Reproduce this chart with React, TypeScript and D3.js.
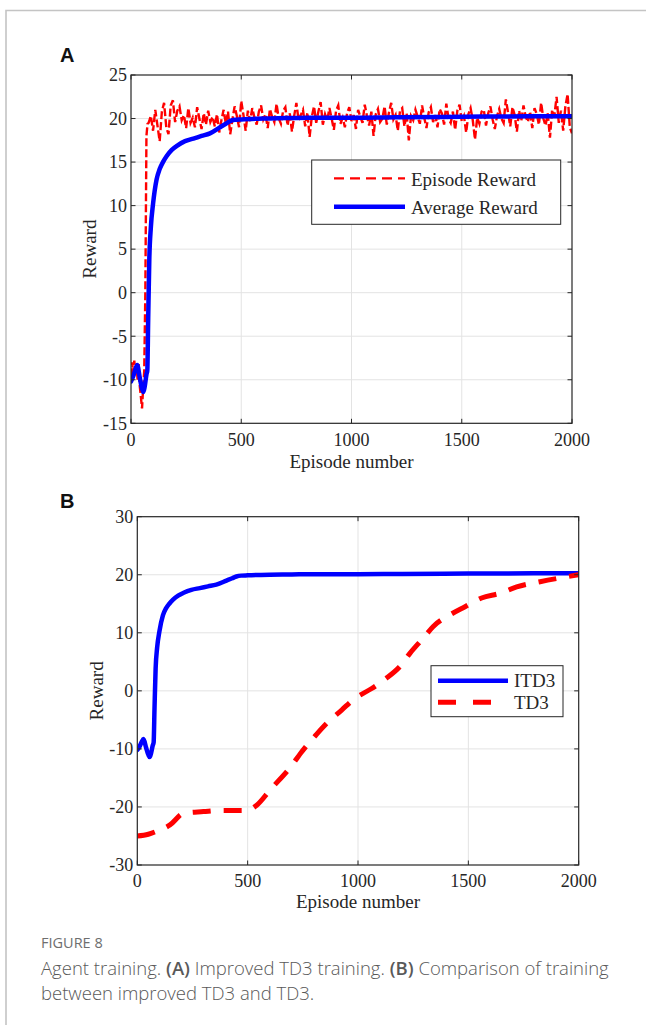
import React from 'react';
import * as d3 from 'd3';

// ---------- data ----------
const xTicks = [0, 500, 1000, 1500, 2000];
const yTicksA = [-15, -10, -5, 0, 5, 10, 15, 20, 25];
const yTicksB = [-30, -20, -10, 0, 10, 20, 30];

// Episode reward (panel A), early part with finer spacing
const episodeEarlyX = [0, 5, 10, 15, 20, 25, 30, 35, 40, 45, 50, 55, 60, 65, 70, 75];
const episodeEarlyY = [-9.6, -8.0, -9.2, -7.8, -9.4, -8.4, -10.0, -8.2, -10.8, -12.0, -13.3, -11.0, -9.0, 0.0, 18.0, 19.4];
// Episode reward from episode 80 to 2000, every 10 episodes
const episodeMainStart = 80;
const episodeMainStep = 10;
const episodeMainY = [
  19.5, 20.3, 18.6, 21.0, 19.2, 17.4, 20.8, 21.8, 19.0, 18.2,
  21.5, 22.1, 19.6, 20.9, 21.4, 19.8, 20.4, 18.9, 21.2, 19.5,
  20.1, 19.0, 21.3, 20.0, 18.8, 20.6, 19.3, 20.9, 19.6, 20.2,
  19.1, 20.5, 18.4, 19.8, 21.0, 19.4, 20.8, 18.2, 19.9, 21.4,
  20.3, 19.0, 22.0, 20.4, 18.6, 20.9, 19.7, 21.2, 20.1, 19.3,
  20.8, 21.5, 19.9, 20.5, 18.9, 21.1, 20.2, 19.6, 21.7, 20.0,
  19.4, 20.9, 21.3, 19.2, 20.6, 18.5, 20.3, 21.8, 19.8, 20.4,
  21.0, 19.1, 20.7, 17.9, 20.2, 21.4, 19.5, 20.8, 21.9, 19.3,
  20.5, 19.8, 21.2, 20.0, 18.7, 20.9, 21.5, 19.4, 20.1, 19.0,
  20.6, 21.3, 19.7, 20.4, 18.8, 21.0, 20.2, 19.5, 21.6, 20.3,
  19.2, 20.8, 18.0, 20.5, 21.1, 19.6, 20.0, 21.4, 19.3, 20.7,
  21.8, 19.9, 20.4, 18.6, 20.9, 21.2, 19.1, 20.6, 17.5, 20.3,
  19.8, 21.0, 20.2, 19.4, 21.5, 20.1, 18.9, 20.7, 21.3, 19.6,
  20.4, 19.0, 21.1, 20.6, 19.3, 21.7, 20.0, 19.5, 20.8, 18.7,
  20.9, 21.6, 19.7, 20.3, 18.4, 20.5, 21.2, 19.8, 17.6, 20.1,
  19.4, 20.8, 21.0, 19.2, 20.6, 21.4, 19.9, 18.8, 20.3, 21.1,
  20.0, 19.5, 22.2, 20.7, 19.1, 21.3, 20.4, 18.5, 20.9, 19.7,
  21.5, 20.2, 19.6, 20.8, 18.9, 21.2, 20.5, 19.3, 21.8, 20.0,
  19.2, 20.6, 17.8, 21.0, 20.3, 22.5, 19.5, 20.9, 18.6, 21.4,
  22.8, 19.0, 18.3,
];

// Average reward (panel A) = ITD3 (panel B)
const avgEpisodes = [0, 10, 20, 28, 40, 50, 56, 62, 70, 74, 78, 83, 90, 100, 116, 130, 145, 162, 185, 210, 245, 283, 320, 358, 404, 430, 449, 470, 500, 600, 700, 800, 1000, 1200, 1500, 1800, 2000];
const avgValues = [-10.2, -9.6, -8.8, -8.3, -9.8, -11.0, -11.4, -10.8, -9.4, -8.9, -3.0, 3.8, 7.5, 10.2, 13.0, 14.2, 15.0, 15.7, 16.4, 16.9, 17.4, 17.7, 18.0, 18.3, 19.0, 19.4, 19.7, 19.85, 19.9, 20.0, 20.05, 20.1, 20.1, 20.15, 20.2, 20.25, 20.25];

// TD3 (panel B)
const td3Episodes = [0, 50, 80, 148, 210, 300, 375, 496, 541, 601, 707, 737, 812, 858, 926, 986, 1062, 1122, 1190, 1236, 1296, 1341, 1417, 1485, 1560, 1643, 1719, 1825, 1953, 2000];
const td3Values = [-25.0, -24.7, -24.3, -23.1, -21.1, -20.8, -20.6, -20.6, -19.7, -17.1, -12.5, -10.9, -7.5, -5.6, -3.3, -1.3, 0.4, 2.0, 4.2, 6.5, 9.1, 11.1, 13.1, 14.5, 16.0, 16.8, 17.9, 18.8, 19.7, 20.0];

// ---------- helpers ----------
const SERIF = '"Liberation Serif", "Times New Roman", serif';
const AXIS = '#262626';
const GRID = '#e3e3e3';

type Pt = [number, number];

const episodePts: Pt[] = [
  ...episodeEarlyX.map((x, i) => [x, episodeEarlyY[i]] as Pt),
  ...episodeMainY.map((y, i) => [episodeMainStart + i * episodeMainStep, y] as Pt),
];
const avgPts: Pt[] = avgEpisodes.map((x, i) => [x, avgValues[i]]);
const td3Pts: Pt[] = td3Episodes.map((x, i) => [x, td3Values[i]]);

interface PanelProps {
  id: string;
  left: number; right: number; top: number; bottom: number;
  yDomain: [number, number];
  yTicks: number[];
  yLabelX: number;
  xTickBaseline: number;
  xLabelBaseline: number;
  children: (x: d3.ScaleLinear<number, number>, y: d3.ScaleLinear<number, number>) => React.ReactNode;
  legend: React.ReactNode;
}

function Panel(p: PanelProps) {
  const x = d3.scaleLinear().domain([0, 2000]).range([p.left, p.right]);
  const y = d3.scaleLinear().domain(p.yDomain).range([p.bottom, p.top]);
  const tl = 4.5;
  return (
    <g>
      <defs>
        <clipPath id={`clip-${p.id}`}>
          <rect x={p.left} y={p.top} width={p.right - p.left} height={p.bottom - p.top} />
        </clipPath>
      </defs>
      <rect x={p.left} y={p.top} width={p.right - p.left} height={p.bottom - p.top} fill="#fff" />
      {/* grid */}
      {xTicks.slice(1, -1).map((t) => (
        <line key={`gx${t}`} x1={x(t)} x2={x(t)} y1={p.top} y2={p.bottom} stroke={GRID} strokeWidth={1} />
      ))}
      {p.yTicks.slice(1, -1).map((t) => (
        <line key={`gy${t}`} x1={p.left} x2={p.right} y1={y(t)} y2={y(t)} stroke={GRID} strokeWidth={1} />
      ))}
      <g clipPath={`url(#clip-${p.id})`}>{p.children(x, y)}</g>
      {/* ticks */}
      {xTicks.map((t) => (
        <g key={`tx${t}`}>
          <line x1={x(t)} x2={x(t)} y1={p.bottom} y2={p.bottom - tl} stroke={AXIS} />
          <line x1={x(t)} x2={x(t)} y1={p.top} y2={p.top + tl} stroke={AXIS} />
          <text x={x(t)} y={p.xTickBaseline} textAnchor="middle" fontFamily={SERIF} fontSize={18} fill={AXIS}>{t}</text>
        </g>
      ))}
      {p.yTicks.map((t) => (
        <g key={`ty${t}`}>
          <line x1={p.left} x2={p.left + tl} y1={y(t)} y2={y(t)} stroke={AXIS} />
          <line x1={p.right} x2={p.right - tl} y1={y(t)} y2={y(t)} stroke={AXIS} />
          <text x={p.left - 4} y={y(t)} dy="0.35em" textAnchor="end" fontFamily={SERIF} fontSize={18} fill={AXIS}>{t}</text>
        </g>
      ))}
      <rect x={p.left} y={p.top} width={p.right - p.left} height={p.bottom - p.top} fill="none" stroke={AXIS} strokeWidth={1.2} />
      <text x={(p.left + p.right) / 2} y={p.xLabelBaseline} textAnchor="middle" fontFamily={SERIF} fontSize={19} fill={AXIS}>Episode number</text>
      <text transform={`translate(${p.yLabelX},${(p.top + p.bottom) / 2}) rotate(-90)`} textAnchor="middle" dy="0.35em" fontFamily={SERIF} fontSize={19} fill={AXIS}>Reward</text>
      {p.legend}
    </g>
  );
}

export default function App() {
  const lineLinear = (x: any, y: any) => d3.line<Pt>().x((d) => x(d[0])).y((d) => y(d[1]));
  const lineSmooth = (x: any, y: any) => d3.line<Pt>().x((d) => x(d[0])).y((d) => y(d[1])).curve(d3.curveMonotoneX);

  return (
    <svg width={646} height={1025} style={{ position: 'absolute', left: 0, top: 0, background: '#fff' }}>
      {/* frame */}
      <path d="M6,1025 L6,10.5 L646,10.5" fill="none" stroke="#c4c4c4" strokeWidth={1.6} />

      <text x={60} y={62} fontFamily='"Liberation Sans", Arial, sans-serif' fontWeight="bold" fontSize={20} fill="#111">A</text>
      <Panel
        id="a" left={131} right={572} top={75} bottom={423.3}
        yDomain={[-15, 25]} yTicks={yTicksA} yLabelX={89}
        xTickBaseline={446} xLabelBaseline={468}
        legend={
          <g>
            <rect x={311.7} y={160} width={249} height={64.3} fill="#fff" stroke={AXIS} strokeWidth={1} />
            <line x1={334} x2={405} y1={178.3} y2={178.3} stroke="#ff0000" strokeWidth={2.2} strokeDasharray="10,6" />
            <text x={411} y={186} fontFamily={SERIF} fontSize={19} fill={AXIS}>Episode Reward</text>
            <line x1={334} x2={405} y1={206.7} y2={206.7} stroke="#0000ff" strokeWidth={4.5} />
            <text x={411} y={214} fontFamily={SERIF} fontSize={19} fill={AXIS}>Average Reward</text>
          </g>
        }
      >
        {(x, y) => (
          <g>
            <path d={lineLinear(x, y)(episodePts) || ''} fill="none" stroke="#ff0000" strokeWidth={2.4} strokeDasharray="8,3" />
            <path d={lineSmooth(x, y)(avgPts) || ''} fill="none" stroke="#0000ff" strokeWidth={4.5} strokeLinejoin="round" strokeLinecap="round" />
          </g>
        )}
      </Panel>

      <text x={60} y={508} fontFamily='"Liberation Sans", Arial, sans-serif' fontWeight="bold" fontSize={20} fill="#111">B</text>
      <Panel
        id="b" left={137.3} right={578.7} top={516.7} bottom={865}
        yDomain={[-30, 30]} yTicks={yTicksB} yLabelX={96}
        xTickBaseline={887} xLabelBaseline={908}
        legend={
          <g>
            <rect x={431} y={665.7} width={132} height={51} fill="#fff" stroke={AXIS} strokeWidth={1} />
            <line x1={438} x2={508} y1={680.7} y2={680.7} stroke="#0000ff" strokeWidth={4.5} />
            <text x={514} y={687} fontFamily={SERIF} fontSize={19} fill={AXIS}>ITD3</text>
            <line x1={438} x2={508} y1={702.3} y2={702.3} stroke="#ff0000" strokeWidth={5} strokeDasharray="18,17" />
            <text x={514} y={709} fontFamily={SERIF} fontSize={19} fill={AXIS}>TD3</text>
          </g>
        }
      >
        {(x, y) => (
          <g>
            <path d={lineSmooth(x, y)(avgPts) || ''} fill="none" stroke="#0000ff" strokeWidth={4.5} strokeLinejoin="round" strokeLinecap="round" />
            <path d={lineSmooth(x, y)(td3Pts) || ''} fill="none" stroke="#ff0000" strokeWidth={5} strokeDasharray="18,13" />
          </g>
        )}
      </Panel>

      {/* caption */}
      <text x={41} y={948} fontFamily='"Open Sans", "Noto Sans", sans-serif' fontSize={14.5} fill="#6e6e6e">FIGURE 8</text>
      <text x={41} y={975} fontFamily='"Open Sans", "Noto Sans", sans-serif' fontSize={18.5} fill="#595959" fontWeight={300}>
        Agent training. <tspan fontWeight={600}>(A)</tspan> Improved TD3 training. <tspan fontWeight={600}>(B)</tspan> Comparison of training
      </text>
      <text x={41} y={1000} fontFamily='"Open Sans", "Noto Sans", sans-serif' fontSize={18.5} fill="#595959" fontWeight={300}>
        between improved TD3 and TD3.
      </text>
    </svg>
  );
}
